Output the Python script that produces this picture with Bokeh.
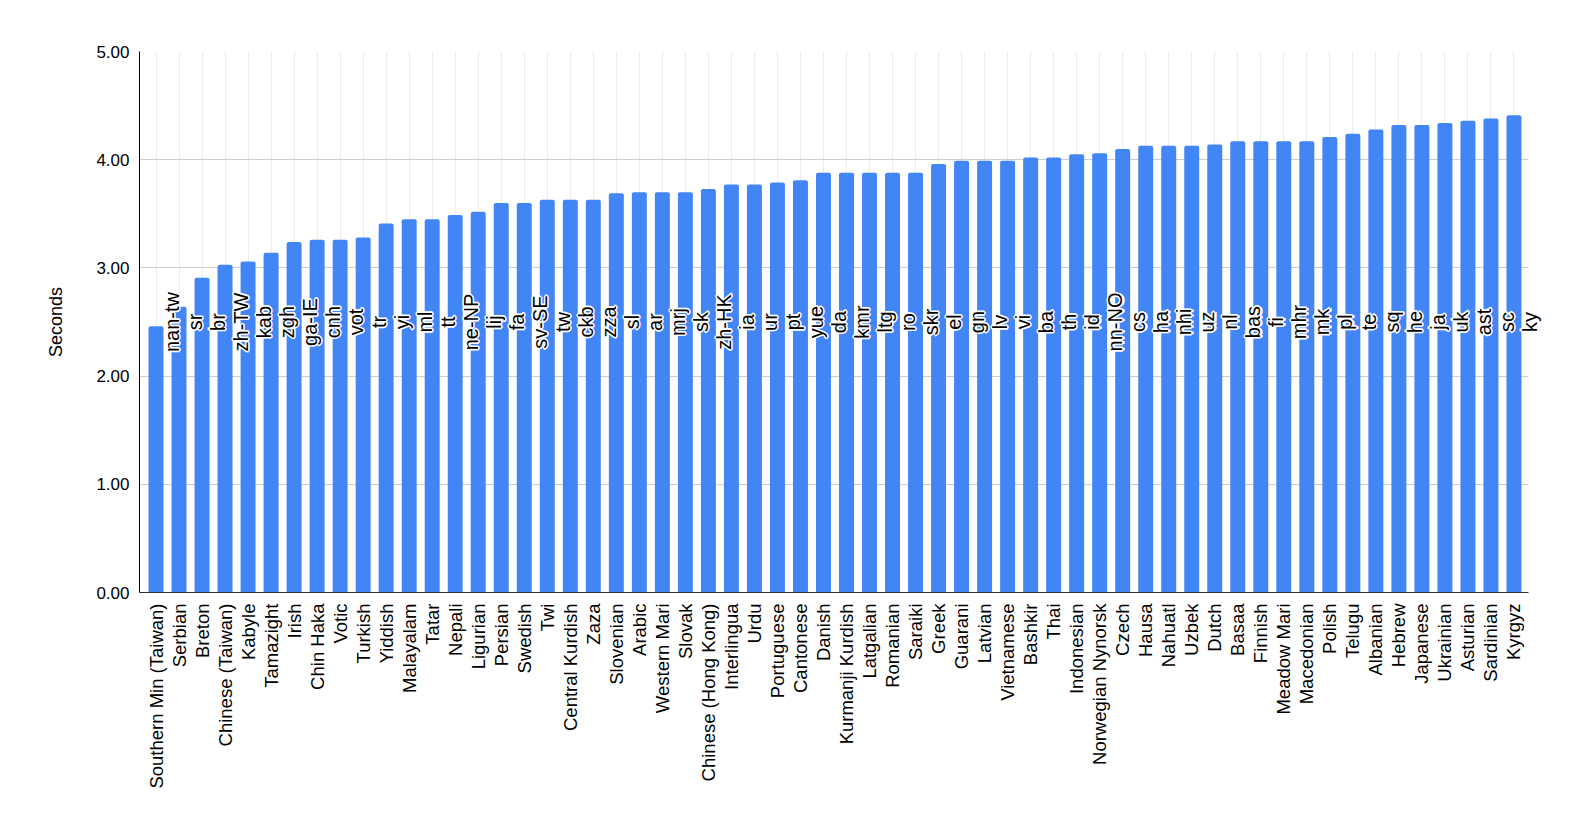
import math
from bokeh.plotting import figure
from bokeh.models import (ColumnDataSource, Range1d, NumeralTickFormatter,
                          FixedTicker, LabelSet)
from bokeh.transform import dodge
from bokeh.core.properties import value
from bokeh.embed import file_html
from bokeh.resources import INLINE

languages = [
    "Southern Min (Taiwan)", "Serbian", "Breton", "Chinese (Taiwan)", "Kabyle", "Tamazight",
    "Irish", "Chin Haka", "Votic", "Turkish", "Yiddish", "Malayalam", "Tatar", "Nepali",
    "Ligurian", "Persian", "Swedish", "Twi", "Central Kurdish", "Zaza", "Slovenian", "Arabic",
    "Western Mari", "Slovak", "Chinese (Hong Kong)", "Interlingua", "Urdu", "Portuguese",
    "Cantonese", "Danish", "Kurmanji Kurdish", "Latgalian", "Romanian", "Saraiki", "Greek",
    "Guarani", "Latvian", "Vietnamese", "Bashkir", "Thai", "Indonesian", "Norwegian Nynorsk",
    "Czech", "Hausa", "Nahuatl", "Uzbek", "Dutch", "Basaa", "Finnish", "Meadow Mari",
    "Macedonian", "Polish", "Telugu", "Albanian", "Hebrew", "Japanese", "Ukrainian",
    "Asturian", "Sardinian", "Kyrgyz",
]
codes = [
    "nan-tw", "sr", "br", "zh-TW", "kab", "zgh", "ga-IE", "cnh", "vot", "tr", "yi", "ml", "tt",
    "ne-NP", "lij", "fa", "sv-SE", "tw", "ckb", "zza", "sl", "ar", "mrj", "sk", "zh-HK", "ia",
    "ur", "pt", "yue", "da", "kmr", "ltg", "ro", "skr", "el", "gn", "lv", "vi", "ba", "th", "id",
    "nn-NO", "cs", "ha", "nhi", "uz", "nl", "bas", "fi", "mhr", "mk", "pl", "te", "sq", "he",
    "ja", "uk", "ast", "sc", "ky",
]
seconds = [
    2.46, 2.64, 2.91, 3.03, 3.06, 3.14, 3.24, 3.26, 3.26, 3.28,
    3.41, 3.45, 3.45, 3.49, 3.52, 3.60, 3.60, 3.63, 3.63, 3.63,
    3.69, 3.70, 3.70, 3.70, 3.73, 3.77, 3.77, 3.79, 3.81, 3.88,
    3.88, 3.88, 3.88, 3.88, 3.96, 3.99, 3.99, 3.99, 4.02, 4.02,
    4.05, 4.06, 4.10, 4.13, 4.13, 4.13, 4.14, 4.17, 4.17, 4.17,
    4.17, 4.21, 4.24, 4.28, 4.32, 4.32, 4.34, 4.36, 4.38, 4.41,
]
y_ticks = [0, 1, 2, 3, 4, 5]

FONT = "Liberation Sans"
LABEL_Y = 2.5
n = len(languages)
slots = list(range(n))          # one slot per category on the x scale

src = ColumnDataSource(dict(slot=slots, lang=languages, code=codes, sec=seconds,
                            lab_y=[LABEL_Y] * n))

# view extends a little past the last category so the final data label is not cut;
# grid lines and axis line stop at the category span
X_START, X_END, X_DRAW_END = -0.717, n - 1 + 1.37, n - 1 + 0.63

p = figure(
    x_range=Range1d(X_START, X_END),
    y_range=Range1d(0, 5),
    width=1550, height=806,
    output_backend="svg", toolbar_location=None,
    min_border_left=139, min_border_right=5, min_border_top=51, min_border_bottom=214,
)

p.vbar(x="slot", top="sec", width=0.65, source=src, fill_color="#4285F4",
       line_color=None, border_radius=(2, 2, 0, 0))

label_x = dodge("slot", 0.68)
label_style = dict(angle=math.pi / 2, text_align="center", text_baseline="middle",
                   text_font=value(FONT), text_font_size=value("20px"))
# white halo underneath, then the black label on top
for dx, dy in [(-1.2, 0), (1.2, 0), (0, -1.2), (0, 1.2)]:
    p.add_layout(LabelSet(x=label_x, y="lab_y", text="code", source=src,
                          x_offset=dx, y_offset=dy, text_color="white",
                          text_outline_color="white", **label_style))
p.add_layout(LabelSet(x=label_x, y="lab_y", text="code", source=src,
                      text_color="black", **label_style))

p.outline_line_color = None
p.xgrid.grid_line_color = "#ebebeb"
p.ygrid.grid_line_color = "#cccccc"
for g in p.ygrid:
    if "cross_bounds" in g.properties():
        g.cross_bounds = (X_START, X_DRAW_END)

p.xaxis.ticker = FixedTicker(ticks=slots)
p.xaxis.major_label_overrides = {i: name for i, name in zip(slots, languages)}
p.xaxis.bounds = (X_START, X_DRAW_END)
p.xaxis.axis_line_color = "#333333"
p.xaxis.major_label_orientation = math.pi / 2
p.xaxis.major_label_text_font_size = "18.5px"
p.xaxis.major_label_standoff = 5

p.yaxis.ticker = FixedTicker(ticks=y_ticks)
p.yaxis.formatter = NumeralTickFormatter(format="0.00")
p.yaxis.axis_label = "Seconds"
p.yaxis.axis_label_text_font = FONT
p.yaxis.axis_label_text_font_size = "18px"
p.yaxis.axis_label_text_font_style = "normal"
p.yaxis.axis_label_text_color = "black"
p.yaxis.axis_label_standoff = 27
p.yaxis.axis_line_color = "black"
p.yaxis.major_label_text_font_size = "17px"
p.yaxis.major_label_standoff = 4

for ax in (p.xaxis, p.yaxis):
    ax.major_tick_line_color = None
    ax.minor_tick_line_color = None
    ax.major_label_text_font = FONT
    ax.major_label_text_color = "black"

open("out.html", "w").write(file_html(p, INLINE))
